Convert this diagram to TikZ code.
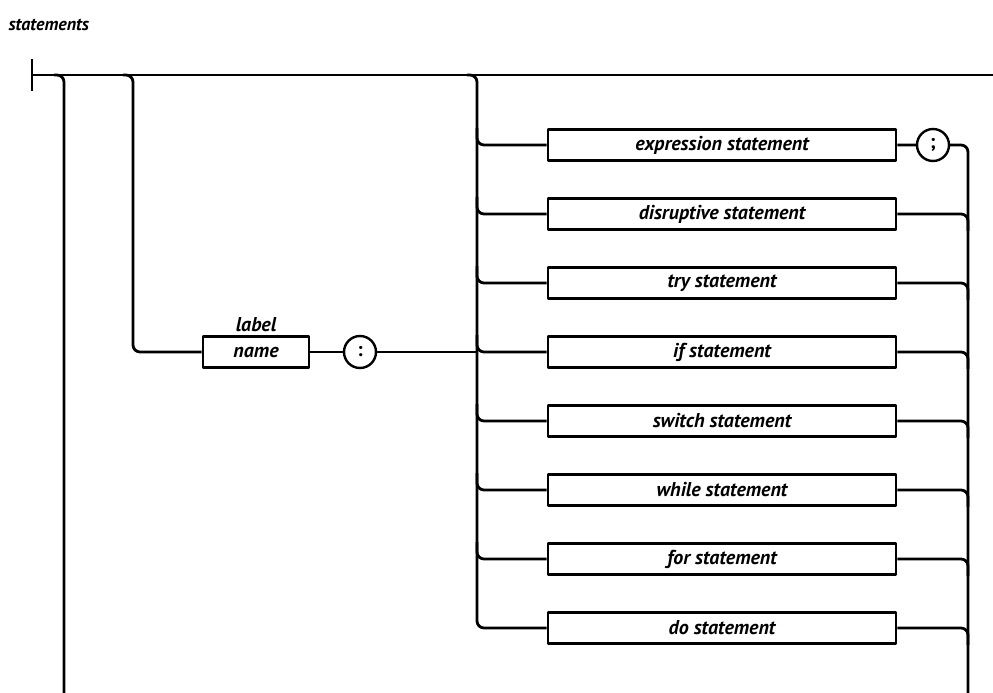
\documentclass[tikz,border=0pt]{standalone}
\usepackage{fontspec}
\setmainfont{PT Sans}
\usetikzlibrary{positioning}

\tikzset{
  rail/.style={line width=2.8pt, rounded corners=7pt},
  stmtbox/.style={draw, line width=2.6pt, minimum width=348pt, minimum height=31pt, inner sep=0pt,
    font=\bfseries\itshape\fontsize{20}{22}\selectfont},
  namebox/.style={stmtbox, minimum width=106pt},
  tok/.style={draw, circle, line width=2.4pt, minimum size=32pt, inner sep=0pt,
    font=\bfseries\fontsize{20}{22}\selectfont},
}

\begin{document}
\begin{tikzpicture}[x=1pt, y=-1pt, line join=round]
	\useasboundingbox (0,0) rectangle (993,693);
	\node[anchor=west, font=\bfseries\itshape\fontsize{18}{20}\selectfont] (title) at (5,25) {statements};
	% rails
	\coordinate (start) at (32,75);
	\coordinate (stop) at (993,75);
	\coordinate (loop) at (64,75);
	\coordinate (lbl) at (133,75);
	\coordinate (trunkL) at (477,75);
	\coordinate (trunkR) at (968,75);
	\coordinate (bot) at (0,693);
	% statement boxes
	\foreach \name/\txt [count=\i] in {expr/expression statement, disr/disruptive statement,
	    try/try statement, if/if statement, switch/switch statement, while/while statement,
	    for/for statement, do/do statement}
		\node[stmtbox] (\name) at (722,{145+69*(\i-1)}) {\txt};
	\node[namebox] (name) at (256,352) {name};
	\node[font=\bfseries\itshape\fontsize{20}{22}\selectfont, above=0pt of name] (lbltxt) {label};
	\node[tok] (colon) at (360,352) {:};
	\node[tok] (semi) at (933,145) {;};

	\draw[line width=2.8pt] ([yshift=-16pt]start) -- ([yshift=16pt]start);
	\draw[rail] (start) -- (stop);
	\draw[rail] ([xshift=-10pt]loop) -- (loop) -- (loop |- bot);
	\draw[rail] ([xshift=-10pt]lbl) -- (lbl) -- (lbl |- name) -- (name.west);
	\draw[rail] (name) -- (colon) -- (trunkL |- colon);
	\draw[rail] ([xshift=-10pt]trunkL) -- (trunkL) -- (trunkL |- do) -- (do.west);
	\foreach \name in {expr,disr,try,if,switch,while,for}
		\draw[rail] (trunkL |- \name.north) -- (trunkL |- \name) -- (\name.west);
	\draw[rail] (expr) -- (semi) -- (trunkR |- semi) -- (trunkR |- bot);
	\foreach \name in {disr,try,if,switch,while,for,do}
		\draw[rail] (\name.east) -- (trunkR |- \name) -- (trunkR |- \name.south);
\end{tikzpicture}
\end{document}
